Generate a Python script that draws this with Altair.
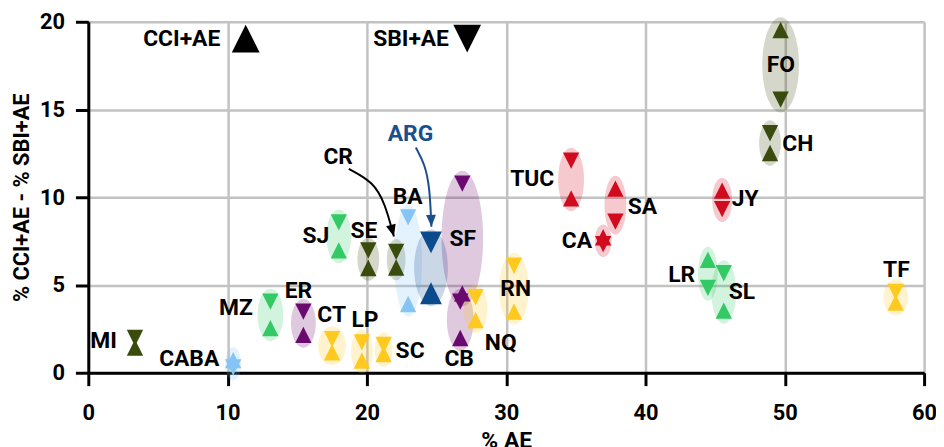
import altair as alt
import pandas as pd

# ---------------- data ----------------
names = ["MI", "CABA", "MZ", "ER", "SJ", "CT", "LP", "SE", "SC", "CR", "BA", "ARG", "SF",
         "CB", "NQ", "RN", "TUC", "CA", "SA", "LR", "SL", "JY", "CH", "FO", "TF"]
region = ["NEA", "AMBA", "Cuyo", "Centro", "Cuyo", "Patagonia", "Patagonia", "NEA", "Patagonia",
          "NEA", "AMBA", "Total", "Centro", "Centro", "Patagonia", "Patagonia", "NOA", "NOA",
          "NOA", "Cuyo", "Cuyo", "NOA", "NEA", "NEA", "Patagonia"]
pct_ae = [3.35, 10.4, 13.07, 15.44, 17.98, 17.5, 19.64, 20.1, 21.2, 22.1, 22.96, 24.6, 26.85,
          26.7, 27.8, 30.56, 34.66, 36.96, 37.84, 44.48, 45.62, 45.5, 48.94, 49.7, 57.96]
cci_ae = [1.43, 0.72, 2.54, 2.16, 6.97, 1.17, 0.70, 5.97, 1.07, 6.0, 3.92, 4.53, 4.52,
          1.98, 3.0, 3.48, 9.94, 7.72, 10.49, 6.44, 3.54, 10.38, 12.52, 19.53, 4.0]
sbi_ae = [1.98, 0.30, 4.05, 3.48, 8.57, 1.92, 1.73, 6.97, 1.58, 6.89, 8.85, 7.43, 10.78,
          4.05, 4.3, 6.1, 12.09, 7.33, 8.61, 4.84, 5.67, 9.32, 13.65, 15.56, 4.6]
weight = [0, 16, 26, 25, 25, 28, 22, 22, 18, 19, 28, 34, 42,
          27, 24, 30, 26, 17, 22, 20, 25, 20, 22, 37, 25]

label_names = ["MI", "CABA", "MZ", "ER", "CT", "LP", "SC", "SJ", "SE", "BA", "CR", "ARG", "SF",
               "CB", "NQ", "RN", "TUC", "SA", "CA", "JY", "FO", "CH", "LR", "SL", "TF"]
label_x = [2.06, 9.40, 11.81, 15.09, 17.47, 19.86, 22.06, 17.30, 19.79, 22.92, 17.94, 23.13, 26.88,
           26.62, 29.61, 30.68, 33.45, 38.72, 36.16, 46.19, 49.72, 49.82, 43.56, 45.98, 58.01]
label_y = [1.78, 0.79, 3.67, 4.63, 3.28, 2.99, 1.24, 7.80, 8.08, 10.0, 12.28, 13.6, 7.63,
           0.79, 1.69, 4.75, 11.02, 9.45, 7.53, 9.89, 17.55, 13.03, 5.59, 4.58, 5.88]
label_align = ["right", "right", "right", "center", "center", "center", "left", "right", "center",
               "center", "center", "center", "center", "center", "center", "center", "right",
               "left", "right", "left", "center", "left", "right", "left", "center"]

legend_text = ["CCI+AE", "SBI+AE"]
legend_text_x = [9.47, 25.89]
legend_sym_x = [11.3, 27.2]
legend_y = [19.04, 19.04]

cr_arrow_x = [18.70, 20.48, 21.30, 21.94]
cr_arrow_y = [11.62, 10.86, 9.64, 7.76]
arg_arrow_x = [23.51, 24.15, 24.51, 24.63]
arg_arrow_y = [12.84, 11.90, 10.58, 8.32]

# ---------------- styles ----------------
FONT = "Roboto, Liberation Sans, sans-serif"
PLOT_W, PLOT_H = 843, 354
X_MAX, Y_MAX = 60, 20
PX_PER_Y = PLOT_H / Y_MAX
PAD = 13
region_domain = ["NEA", "Cuyo", "Centro", "Patagonia", "NOA", "AMBA", "Total"]
region_colors = ["#394b0d", "#33c965", "#6b0a6e", "#ffc91f", "#d20a1e", "#84c5f5", "#0b4a8c"]
BLUE_TXT = "#1b4f8b"
UP = "M0,-1L1,1L-1,1Z"
DOWN = "M0,1L1,-1L-1,-1Z"
HEAD = "M0,0L-1,-2.4L1,-2.4Z"


def ellipse_path(a, b):
    k = 0.5523
    f = lambda v: f"{v:.2f}"
    return (f"M{f(a)},0 C{f(a)},{f(k*b)} {f(k*a)},{f(b)} 0,{f(b)} "
            f"C{f(-k*a)},{f(b)} {f(-a)},{f(k*b)} {f(-a)},0 "
            f"C{f(-a)},{f(-k*b)} {f(-k*a)},{f(-b)} 0,{f(-b)} "
            f"C{f(k*a)},{f(-b)} {f(a)},{f(-k*b)} {f(a)},0 Z")


df = pd.DataFrame({"name": names, "region": region, "pct_ae": pct_ae,
                   "cci_ae": cci_ae, "sbi_ae": sbi_ae, "weight": weight})
df["ymid"] = (df["cci_ae"] + df["sbi_ae"]) / 2
df["ell"] = [ellipse_path(w / 2, abs(c - s) / 2 * PX_PER_Y + PAD)
             for w, c, s in zip(df["weight"], df["cci_ae"], df["sbi_ae"])]

labels = pd.DataFrame({"name": label_names, "x": label_x, "y": label_y, "align": label_align})
legend = pd.DataFrame({"text": legend_text, "tx": legend_text_x, "sx": legend_sym_x,
                       "y": legend_y, "shape": [UP, DOWN]})
cr_arrow = pd.DataFrame({"x": cr_arrow_x, "y": cr_arrow_y, "step": range(len(cr_arrow_x))})
arg_arrow = pd.DataFrame({"x": arg_arrow_x, "y": arg_arrow_y, "step": range(len(arg_arrow_x))})

x_axis = alt.Axis(values=list(range(0, 61, 10)), title="% AE", grid=True,
                  gridColor="#c2c2c2", gridWidth=2.5, domainColor="black", domainWidth=3,
                  tickColor="black", tickWidth=3, tickSize=13, labelFont=FONT,
                  labelFontSize=22, labelFontWeight="bold", labelColor="black",
                  labelPadding=17, titleFont=FONT, titleFontSize=23, titleFontWeight="bold",
                  titleColor="black", titlePadding=6, labelFlush=False)
y_axis = alt.Axis(values=[0, 5, 10, 15, 20], title="% CCI+AE - % SBI+AE", grid=True,
                  gridColor="#c2c2c2", gridWidth=2.5, domainColor="black", domainWidth=3,
                  tickColor="black", tickWidth=3, tickSize=13, labelFont=FONT,
                  labelFontSize=22, labelFontWeight="bold", labelColor="black",
                  labelPadding=11, titleFont=FONT, titleFontSize=22, titleFontWeight="bold",
                  titleColor="black", titlePadding=6, labelFlush=False)

xs = alt.Scale(domain=[0, X_MAX], nice=False, zero=False)
ys = alt.Scale(domain=[0, Y_MAX], nice=False, zero=False)


def X(field):
    return alt.X(field, type="quantitative", scale=xs, axis=x_axis)


def Y(field):
    return alt.Y(field, type="quantitative", scale=ys, axis=y_axis)


C = alt.Color("region:N", scale=alt.Scale(domain=region_domain, range=region_colors), legend=None)

base = alt.Chart(df)

ellipses = base.transform_filter("datum.weight > 0").mark_point(
    filled=True, opacity=0.22, size=4, strokeWidth=0
).encode(x=X("pct_ae"), y=Y("ymid"), color=C, shape=alt.Shape("ell:N", scale=None))

size_enc = alt.condition("datum.name == 'ARG'", alt.value(484), alt.value(272))
ups = base.mark_point(filled=True, opacity=1, shape=UP, strokeWidth=0).encode(
    x=X("pct_ae"), y=Y("cci_ae"), color=C, size=size_enc)
downs = base.mark_point(filled=True, opacity=1, shape=DOWN, strokeWidth=0).encode(
    x=X("pct_ae"), y=Y("sbi_ae"), color=C, size=size_enc)

cr_line = alt.Chart(cr_arrow).mark_line(interpolate="basis", strokeWidth=2, color="black").encode(
    x=X("x"), y=Y("y"), order="step:Q")
arg_line = alt.Chart(arg_arrow).mark_line(interpolate="basis", strokeWidth=2, color=BLUE_TXT).encode(
    x=X("x"), y=Y("y"), order="step:Q")
cr_head = alt.Chart(cr_arrow).transform_filter(f"datum.step == {len(cr_arrow_x) - 1}").mark_point(
    filled=True, opacity=1, shape=HEAD, size=100, angle=345, color="black", strokeWidth=0
).encode(x=X("x"), y=Y("y"))
arg_head = alt.Chart(arg_arrow).transform_filter(f"datum.step == {len(arg_arrow_x) - 1}").mark_point(
    filled=True, opacity=1, shape=HEAD, size=100, angle=358, color=BLUE_TXT, strokeWidth=0
).encode(x=X("x"), y=Y("y"))

label_layers = []
for al in ["left", "center", "right"]:
    label_layers.append(
        alt.Chart(labels).transform_filter(f"datum.align == '{al}'").mark_text(
            font=FONT, fontSize=23, fontWeight="bold", align=al, baseline="middle"
        ).encode(x=X("x"), y=Y("y"), text="name:N",
                 color=alt.condition("datum.name == 'ARG'", alt.value(BLUE_TXT), alt.value("black")))
    )

legend_txt = alt.Chart(legend).mark_text(
    font=FONT, fontSize=23, fontWeight="bold", align="right", baseline="middle", color="black"
).encode(x=X("tx"), y=Y("y"), text="text:N")
legend_sym = alt.Chart(legend).mark_point(
    filled=True, opacity=1, size=784, color="black", strokeWidth=0
).encode(x=X("sx"), y=Y("y"), shape=alt.Shape("shape:N", scale=None))

chart = alt.layer(
    ellipses, ups, downs, cr_line, arg_line, cr_head, arg_head, *label_layers, legend_txt, legend_sym
).properties(
    width=PLOT_W, height=PLOT_H,
    padding={"left": 81, "top": 12, "right": 12, "bottom": 73},
    autosize=alt.AutoSizeParams(type="none"),
    background="white",
).configure_view(stroke=None)

chart.save("out.html", embed_options={"renderer": "svg", "actions": False})
